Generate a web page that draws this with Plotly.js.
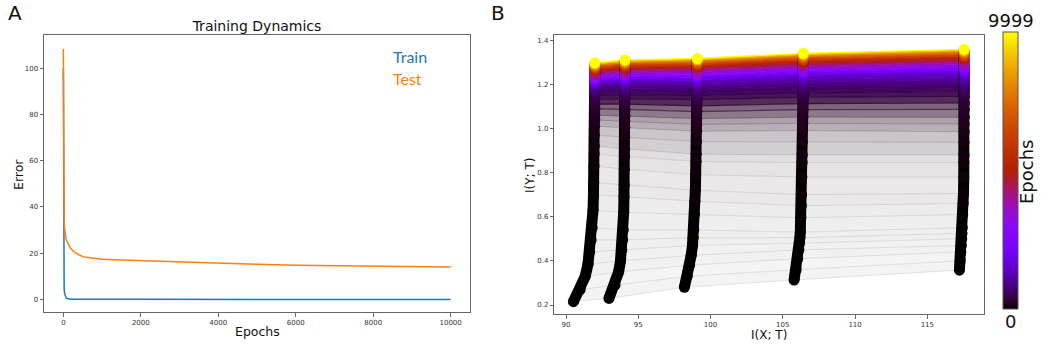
<!DOCTYPE html>
<html><head><meta charset="utf-8">
<script src="https://cdn.plot.ly/plotly-3.0.1.min.js"></script>
<style>html,body{margin:0;padding:0;background:#fff}#chart{width:1042px;height:348px}</style>
</head><body><div id="chart"></div>
<script>
// ---- Panel A data ----
const trainEpochs = [0,2,5,10,15,20,30,50,75,100,150,200,300,500,1000,2000,5000,10000];
const trainError  = [100,75,45,20,9,5,2.6,1.2,0.6,0.35,0.2,0.12,0.08,0.05,0.03,0.02,0.01,0.01];
const testEpochs  = [0,2,5,10,15,20,30,50,75,100,150,200,300,400,500,700,1000,1500,2000,3000,4000,5000,6000,7000,8000,9000,10000];
const testError   = [108.5,85,62,46,39,35,31,27.5,25.8,24.8,23,21.8,20.2,19.3,18.5,18.0,17.4,17.0,16.7,16.1,15.6,15.2,14.8,14.6,14.4,14.2,14.0];
const xTicksA = [0,2000,4000,6000,8000,10000];
const yTicksA = [0,20,40,60,80,100];

// ---- Panel B data (information plane, 5 layers) ----
const planeEpochs = [0,5,10,15,20,25,30,40,50,60,75,90,100,125,150,175,200,250,300,400,500,600,750,1000,1250,1500,2000,2500,3000,3500,4000,5000,6000,7000,8000,9000,9999];
const layer1X = [90.51,90.98,91.33,91.52,91.64,91.74,91.81,91.87,91.90,91.92,91.94,91.95,91.96,91.97,91.98,91.99,91.99,92.0,92.0,92.0,92.0,92.0,92.0,92.0,92.0,92.0,92.0,92.0,92.0,92.0,92.0,92.0,92.0,92.0,92.0,92.0,92.0];
const layer1Y = [0.215,0.27,0.33,0.385,0.44,0.495,0.55,0.63,0.70,0.755,0.83,0.885,0.92,0.97,1.01,1.038,1.06,1.088,1.11,1.133,1.15,1.162,1.175,1.19,1.201,1.207,1.217,1.225,1.231,1.239,1.247,1.261,1.272,1.280,1.287,1.292,1.297];
const layer2X = [92.97,93.39,93.64,93.77,93.86,93.92,93.96,93.99,94.01,94.03,94.04,94.05,94.06,94.06,94.07,94.07,94.08,94.08,94.08,94.08,94.08,94.08,94.08,94.08,94.08,94.08,94.08,94.08,94.08,94.08,94.08,94.08,94.08,94.08,94.08,94.08,94.08];
const layer2Y = [0.23,0.29,0.35,0.40,0.45,0.495,0.54,0.62,0.69,0.745,0.815,0.873,0.907,0.96,1.003,1.033,1.056,1.086,1.11,1.135,1.153,1.166,1.179,1.196,1.208,1.216,1.226,1.234,1.241,1.250,1.258,1.273,1.283,1.292,1.299,1.305,1.31];
const layer3X = [98.19,98.39,98.55,98.66,98.75,98.80,98.84,98.89,98.92,98.95,98.97,99.0,99.01,99.03,99.04,99.05,99.05,99.06,99.06,99.07,99.07,99.08,99.08,99.08,99.08,99.08,99.08,99.09,99.09,99.09,99.09,99.09,99.09,99.09,99.09,99.09,99.09];
const layer3Y = [0.28,0.33,0.38,0.425,0.47,0.505,0.54,0.61,0.67,0.72,0.79,0.85,0.883,0.94,0.987,1.018,1.044,1.076,1.102,1.13,1.148,1.162,1.177,1.194,1.207,1.218,1.229,1.238,1.244,1.254,1.263,1.278,1.289,1.298,1.306,1.312,1.317];
const layer4X = [105.78,105.92,106.03,106.11,106.15,106.18,106.21,106.25,106.28,106.30,106.32,106.34,106.35,106.36,106.37,106.38,106.39,106.40,106.40,106.41,106.41,106.41,106.41,106.41,106.41,106.41,106.42,106.42,106.42,106.42,106.42,106.42,106.42,106.42,106.42,106.42,106.42];
const layer4Y = [0.313,0.36,0.41,0.45,0.48,0.505,0.53,0.595,0.65,0.70,0.78,0.845,0.88,0.94,0.99,1.023,1.051,1.085,1.112,1.141,1.161,1.176,1.191,1.209,1.223,1.237,1.248,1.257,1.264,1.274,1.283,1.299,1.311,1.320,1.328,1.335,1.34];
const layer5X = [117.22,117.27,117.32,117.35,117.38,117.40,117.42,117.45,117.48,117.50,117.52,117.53,117.54,117.54,117.55,117.55,117.56,117.56,117.57,117.57,117.57,117.57,117.57,117.57,117.57,117.57,117.57,117.56,117.56,117.56,117.56,117.55,117.55,117.55,117.54,117.54,117.54];
const layer5Y = [0.358,0.40,0.44,0.47,0.50,0.525,0.55,0.61,0.66,0.705,0.78,0.845,0.88,0.937,0.985,1.02,1.05,1.086,1.115,1.145,1.167,1.183,1.199,1.219,1.234,1.250,1.262,1.272,1.279,1.289,1.299,1.315,1.328,1.337,1.346,1.353,1.358];
const xTicksB = [90,95,100,105,110,115];
const yTicksB = [0.2,0.4,0.6,0.8,1.0,1.2,1.4];
const maxEpoch = 9999;

// ---- helpers ----
const W = 1042, H = 348;
const px = x => x / W, py = y => 1 - y / H;
function gnuplot(t) {
  t = Math.max(0, Math.min(1, t));
  return [Math.sqrt(t), t * t * t, Math.max(0, Math.sin(2 * Math.PI * t))].map(v => Math.round(v * 255));
}
const colorscale = [];
for (let i = 0; i <= 50; i++) { const t = i / 50; const c = gnuplot(t); colorscale.push([t, `rgb(${c[0]},${c[1]},${c[2]})`]); }

const layers = [[layer1X, layer1Y], [layer2X, layer2Y], [layer3X, layer3Y], [layer4X, layer4Y], [layer5X, layer5Y]];
const yRangeB = [0.158, 1.423];
const plotHpxB = 279.3;
const pxPerUnit = plotHpxB / (yRangeB[1] - yRangeB[0]);

const traces = [];
traces.push({x: trainEpochs, y: trainError, xaxis: 'x', yaxis: 'y', mode: 'lines', line: {color: '#1f77b4', width: 1.5}, hoverinfo: 'skip', showlegend: false});
traces.push({x: testEpochs, y: testError, xaxis: 'x', yaxis: 'y', mode: 'lines', line: {color: '#ff7f0e', width: 1.5}, hoverinfo: 'skip', showlegend: false});

// coverage of the band below each epoch line (density of per-epoch lines)
function bandCoverage(i) {
  if (i <= 0) return 0;
  const n = planeEpochs[i] - planeEpochs[i - 1];
  let gap = 0;
  layers.forEach(L => { gap += (L[1][i] - L[1][i - 1]); });
  gap = Math.max(gap / layers.length * pxPerUnit, 0.3);
  return 1 - Math.pow(0.9, n / gap);
}
// connecting lines between layers at each epoch, with density-based fills
for (let i = 0; i < planeEpochs.length; i++) {
  const xs = layers.map(L => L[0][i]);
  const ys = layers.map(L => L[1][i]);
  const c = gnuplot(planeEpochs[i] / maxEpoch);
  const covHere = Math.max(bandCoverage(i), i + 1 < planeEpochs.length ? bandCoverage(i + 1) : 1);
  const lineAlpha = Math.max(0.16, covHere);
  const tr = {x: xs, y: ys, xaxis: 'x2', yaxis: 'y2', mode: 'lines',
    line: {color: `rgba(${c[0]},${c[1]},${c[2]},${lineAlpha.toFixed(3)})`, width: covHere > 0.6 ? 1.2 : 0.6}, hoverinfo: 'skip', showlegend: false};
  if (i === 0) { tr.fill = 'none'; }
  else {
    const cov = bandCoverage(i);
    const cm = gnuplot(((planeEpochs[i] + planeEpochs[i - 1]) / 2) / maxEpoch);
    tr.fill = 'tonexty';
    tr.fillcolor = `rgba(${cm[0]},${cm[1]},${cm[2]},${cov.toFixed(3)})`;
  }
  traces.push(tr);
}
// trajectories
layers.forEach((L, k) => {
  traces.push({x: L[0], y: L[1], xaxis: 'x2', yaxis: 'y2', mode: 'lines', line: {color: '#000', width: 11}, hoverinfo: 'skip', showlegend: false});
  const m = {x: L[0], y: L[1], xaxis: 'x2', yaxis: 'y2', mode: 'markers', hoverinfo: 'skip', showlegend: false,
    marker: {size: 11, color: planeEpochs, colorscale: colorscale, cmin: 0, cmax: maxEpoch, line: {width: 0}, showscale: k === 4}};
  if (k === 4) {
    m.marker.colorbar = {x: px(1003.3), xanchor: 'left', y: py(309), yanchor: 'bottom', len: 277.3 / H, lenmode: 'fraction',
      thickness: 15, thicknessmode: 'pixels', xpad: 0, ypad: 0, outlinewidth: 1, outlinecolor: '#555',
      showticklabels: false, ticks: ''};
  }
  traces.push(m);
});

const axisCommon = {showline: true, mirror: true, linecolor: '#666', linewidth: 1, showgrid: false, zeroline: false,
  ticks: 'outside', ticklen: 3.5, tickwidth: 0.8, tickcolor: '#444', tickfont: {size: 7, color: '#333', family: 'DejaVu Sans'}};

const ann = (text, x, y, size, extra) => Object.assign({text: text, x: px(x), y: py(y), xref: 'paper', yref: 'paper', showarrow: false,
  xanchor: 'center', yanchor: 'middle', font: {size: size, color: '#111', family: 'DejaVu Sans'}}, extra || {});

const layout = {
  width: W, height: H, margin: {l: 0, r: 0, t: 0, b: 0}, paper_bgcolor: '#fff', plot_bgcolor: '#fff',
  showlegend: false, font: {family: 'DejaVu Sans', color: '#111'},
  title: {text: 'Training Dynamics', x: px(257), xanchor: 'center', y: py(26), yanchor: 'middle', xref: 'paper', yref: 'paper', font: {size: 14, color: '#111', family: 'DejaVu Sans'}},
  xaxis: Object.assign({}, axisCommon, {domain: [px(44), px(470)], range: [-500, 10500], anchor: 'y', tickvals: xTicksA, ticktext: xTicksA.map(String)}),
  yaxis: Object.assign({}, axisCommon, {domain: [py(312), py(35)], range: [-5.45, 114.4], anchor: 'x', tickvals: yTicksA, ticktext: yTicksA.map(String)}),
  xaxis2: Object.assign({}, axisCommon, {domain: [px(554.3), px(984)], range: [89.19, 118.92], anchor: 'y2', tickvals: xTicksB, ticktext: xTicksB.map(String)}),
  yaxis2: Object.assign({}, axisCommon, {domain: [py(314.3), py(35)], range: yRangeB, anchor: 'x2', tickvals: yTicksB, ticktext: yTicksB.map(v => v.toFixed(1))}),
  annotations: [
    ann('A', 15, 13, 20),
    ann('B', 498, 13, 20),
    ann('Epochs', 257, 331, 12.5),
    ann('Error', 18, 175, 12.5, {textangle: -90}),
    ann('I(X; T)', 769, 335, 12),
    ann('I(Y; T)', 530, 176, 12, {textangle: -90}),
    ann('Train', 391, 57, 16, {xanchor: 'left', font: {size: 16, color: '#1f77b4', family: 'Lato'}}),
    ann('Test', 391, 78, 16, {xanchor: 'left', font: {size: 16, color: '#ff7f0e', family: 'Lato'}}),
    ann(String(maxEpoch), 1010.7, 20, 18),
    ann('0', 1010.7, 321, 18),
    ann('Epochs', 1027, 172, 18, {textangle: -90})
  ]
};
Plotly.newPlot('chart', traces, layout, {displayModeBar: false, staticPlot: true});
</script></body></html>
